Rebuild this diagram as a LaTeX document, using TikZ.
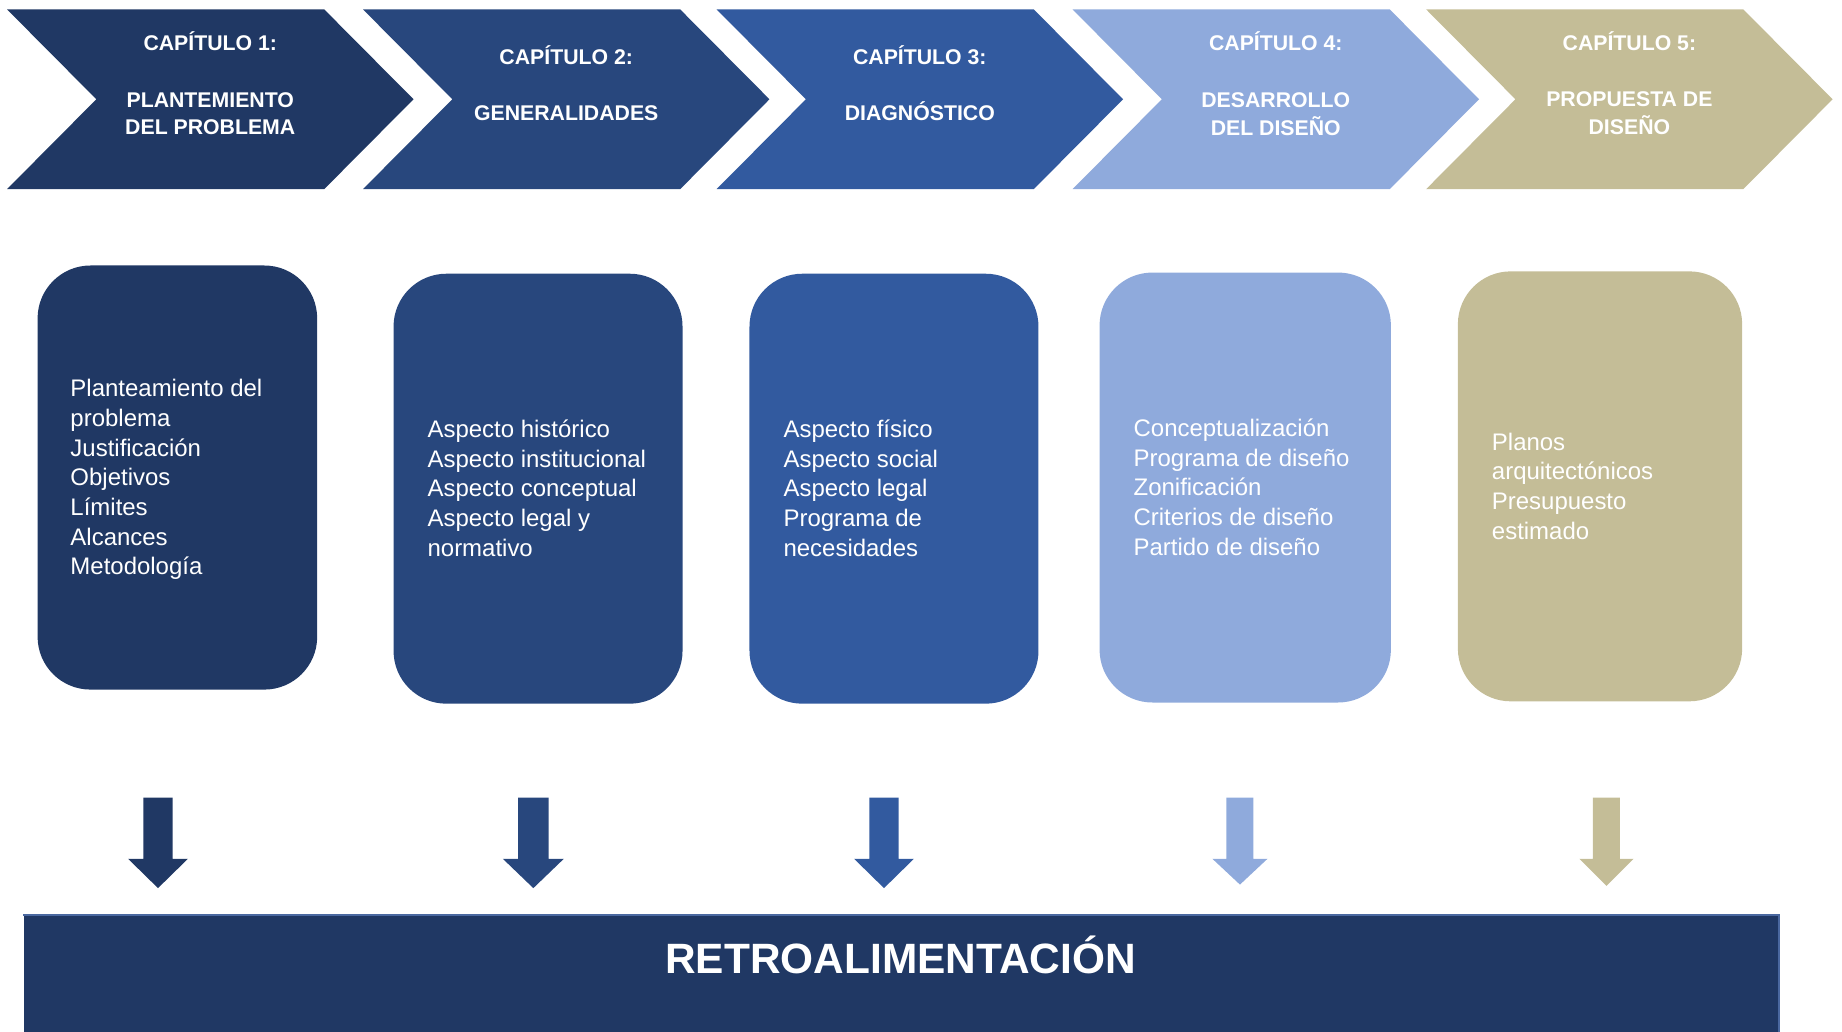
\documentclass[tikz,border=0pt]{standalone}
\usepackage{fontspec}
\setmainfont{Liberation Sans}
\definecolor{c1}{HTML}{203864}
\definecolor{c2}{HTML}{28477D}
\definecolor{c3}{HTML}{325A9F}
\definecolor{c4}{HTML}{8FAADC}
\definecolor{c5}{HTML}{C4BD97}
\definecolor{baredge}{HTML}{4A68A0}
\newcommand\mychev[2]{%
  \fill[#2] (#1,8) -- ++(270,0) -- ++(76,76.5) -- ++(-76,76.5) -- ++(-270,0) -- ++(76,-76.5) -- cycle;}
\newcommand\myarrow[7]{% cx, color, shafthalf, headhalf, top, headtop, tip
  \fill[#2] (#1-#3,#5) -- (#1+#3,#5) -- (#1+#3,#6) -- (#1+#4,#6) -- (#1,#7) -- (#1-#4,#6) -- (#1-#3,#6) -- cycle;}
\begin{document}
\begin{tikzpicture}[x=1pt,y=-1pt,
  chevtext/.style={text=white,font=\bfseries\fontsize{18.1}{23}\selectfont,align=center,inner sep=0pt},
  boxtext/.style={text=white,font=\fontsize{20.4}{25.3}\selectfont,align=left,inner sep=0pt,anchor=west,yshift=-2pt},
  card/.style={rounded corners=45pt,inner sep=0pt,minimum width=#1,minimum height=366pt},
  card/.default=246pt
]
\useasboundingbox (0,0) rectangle (1568,878);
% chevrons
\mychev{6}{c1}
\mychev{309}{c2}
\mychev{610}{c3}
\mychev{913}{c4}
\mychev{1214}{c5}
\node[chevtext] (ch1) at (179,74) {\strut CAPÍTULO 1:\\[25pt]\strut PLANTEMIENTO\\\strut DEL PROBLEMA};
\node[chevtext] (ch2) at (482,74) {\strut CAPÍTULO 2:\\[25pt]\strut GENERALIDADES};
\node[chevtext] (ch3) at (783,74) {\strut CAPÍTULO 3:\\[25pt]\strut DIAGNÓSTICO};
\node[chevtext] (ch4) at (1086,74.5) {\strut CAPÍTULO 4:\\[25pt]\strut DESARROLLO\\\strut DEL DISEÑO};
\node[chevtext] (ch5) at (1387,74) {\strut CAPÍTULO 5:\\[25pt]\strut PROPUESTA DE\\\strut DISEÑO};
% cards
\node[card=238pt,minimum height=361pt,fill=c1] (b1) at (151,406.5) {};
\node[card,fill=c2] (b2) at (458,416) {};
\node[card,fill=c3] (b3) at (761,416) {};
\node[card=248pt,fill=c4] (b4) at (1060,415) {};
\node[card=242pt,fill=c5] (b5) at (1362,414) {};
\node[boxtext] (t1) at ([xshift=28pt]b1.west) {\strut Planteamiento del\\\strut problema\\\strut Justificación\\\strut Objetivos\\\strut Límites\\\strut Alcances\\\strut Metodología};
\node[boxtext] (t2) at ([xshift=29pt]b2.west) {\strut Aspecto histórico\\\strut Aspecto institucional\\\strut Aspecto conceptual\\\strut Aspecto legal y\\\strut normativo};
\node[boxtext] (t3) at ([xshift=29pt]b3.west) {\strut Aspecto físico\\\strut Aspecto social\\\strut Aspecto legal\\\strut Programa de\\\strut necesidades};
\node[boxtext] (t4) at ([xshift=29pt]b4.west) {\strut Conceptualización\\\strut Programa de diseño\\\strut Zonificación\\\strut Criterios de diseño\\\strut Partido de diseño};
\node[boxtext] (t5) at ([xshift=29pt]b5.west) {\strut Planos\\\strut arquitectónicos\\\strut Presupuesto\\\strut estimado};
% arrows
\myarrow{134.5}{c1}{12.5}{25.5}{679}{731}{756}
\myarrow{454}{c2}{13}{26}{679}{731}{756}
\myarrow{752.5}{c3}{12.5}{25.5}{679}{731}{756}
\myarrow{1055.5}{c4}{11.5}{23.5}{679}{731}{753}
\myarrow{1367.5}{c5}{11.5}{23}{679}{731}{754}
% bottom bar
\node[fill=c1,inner sep=0pt,minimum width=1494pt,minimum height=99pt,anchor=north west] (bar) at (20,779) {};
\draw[baredge,line width=1.5pt] (bar.north west) -- (bar.north east) -- (bar.south east);
\node[text=white,font=\bfseries\fontsize{36.1}{40}\selectfont,inner sep=0pt,anchor=base] (ret) at (766.5,828.6) {RETROALIMENTACIÓN};
\end{tikzpicture}
\end{document}
